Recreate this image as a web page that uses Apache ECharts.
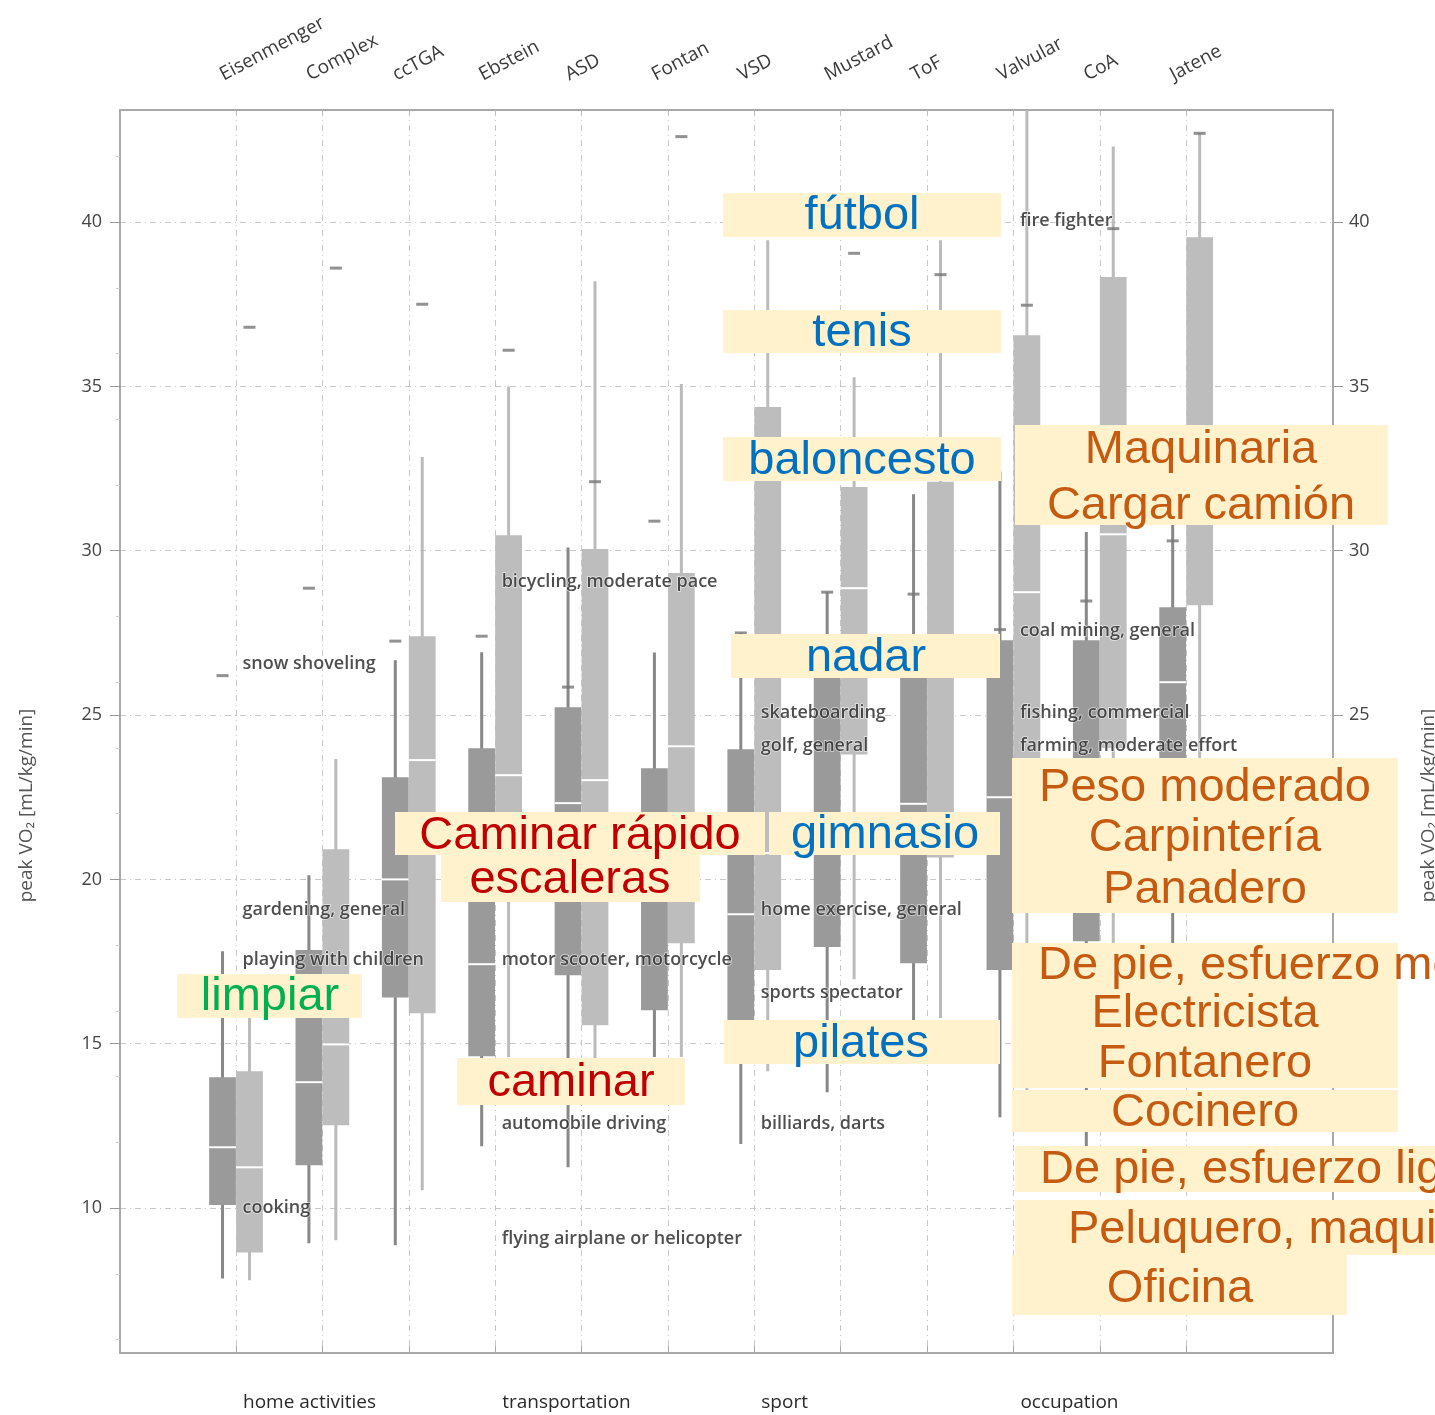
<!DOCTYPE html>
<html>
<head>
<meta charset="utf-8">
<title>peak VO2 by diagnosis</title>
<script src="https://cdn.jsdelivr.net/npm/echarts@6/dist/echarts.min.js"></script>
<style>
  html, body { margin: 0; padding: 0; background: #fff; }
  #main { width: 1435px; height: 1415px; }
</style>
</head>
<body>
<div id="main"></div>
<script>
// diagnoses along the top
var categories = ['Eisenmenger', 'Complex', 'ccTGA', 'Ebstein', 'ASD', 'Fontan', 'VSD', 'Mustard', 'ToF', 'Valvular', 'CoA', 'Jatene'];

// [low, q1, median, q3, high] - darker box (left of each pair)
var darkBoxes = [
  [7.86, 10.09, 11.85, 13.98, 17.81],
  [8.93, 11.30, 13.83, 17.85, 20.13],
  [8.87, 16.41, 20.00, 23.11, 26.67],
  [11.88, 14.62, 17.42, 23.99, 26.91],
  [11.24, 17.08, 22.32, 25.24, 30.10],
  [14.60, 16.02, 20.50, 23.38, 26.90],
  [11.95, 15.20, 18.94, 23.96, 27.50],
  [13.52, 17.94, 21.30, 26.40, 28.74],
  [15.00, 17.45, 22.30, 26.50, 31.72],
  [12.76, 17.24, 22.50, 27.28, 32.42],
  [11.50, 18.12, 21.50, 27.28, 30.57],
  [17.90, 20.50, 26.00, 28.28, 30.78]
];
// [low, q1, median, q3, high] - lighter box (right of each pair)
var lightBoxes = [
  [7.80, 8.65, 11.24, 14.16, 15.78],
  [9.02, 12.52, 14.98, 20.92, 23.66],
  [10.54, 15.93, 23.63, 27.40, 32.85],
  [14.60, 19.50, 23.17, 30.47, 35.00],
  [14.50, 15.56, 23.02, 30.05, 38.20],
  [14.60, 18.06, 24.05, 29.32, 35.07],
  [14.16, 17.24, 20.80, 34.37, 39.45],
  [16.96, 23.80, 28.86, 31.94, 35.28],
  [15.78, 20.67, 21.50, 32.10, 39.45],
  [13.00, 20.80, 28.74, 36.56, 43.40],
  [15.00, 24.00, 30.50, 38.33, 42.30],
  [21.50, 28.34, 32.50, 39.54, 42.70]
];
// short dash markers above each box
var darkMarks = [26.2, 28.86, 27.25, 27.4, 25.85, 30.9, 27.5, 28.74, 28.68, 27.6, 28.47, 30.3];
var lightMarks = [36.8, 38.6, 37.5, 36.1, 32.1, 42.6, 40.2, 39.05, 38.4, 37.47, 39.8, 42.7];

// activity columns (bottom labels) and their activities
var groups = ['home activities', 'transportation', 'sport', 'occupation'];
var groupPos = [0, 3, 6, 9];
var activities = [
  ['snow shoveling', 0, 26.55], ['gardening, general', 0, 19.06], ['playing with children', 0, 17.54], ['cooking', 0, 10.02],
  ['bicycling, moderate pace', 3, 29.04], ['motor scooter, motorcycle', 3, 17.54], ['automobile driving', 3, 12.55], ['flying airplane or helicopter', 3, 9.05],
  ['skateboarding', 6, 25.06], ['golf, general', 6, 24.05], ['home exercise, general', 6, 19.06], ['sports spectator', 6, 16.54], ['billiards, darts', 6, 12.55],
  ['fire fighter', 9, 40.03], ['coal mining, general', 9, 27.55], ['fishing, commercial', 9, 25.06], ['farming, moderate effort', 9, 24.05]
];

var yTicks = [10, 15, 20, 25, 30, 35, 40];
var xMin = -1.343, xMax = 12.70;
var yMin = 5.59, yMax = 43.41;
var pairOffset = 0.156, boxWidth = 0.31;

var catPos = categories.map(function (c, i) { return i; });
var topLabelPos = catPos.map(function (v) { return v - 0.17; });

// spanish annotation boxes drawn over the chart
var cream = '#fff2cc';
var blue = '#0070c0', red = '#c00000', green = '#00b050', orange = '#c55a11';
var notes = [
  { r: [723, 193, 278, 44], c: blue, t: [['fútbol', 862, 216]] },
  { r: [723, 310, 278, 43], c: blue, t: [['tenis', 862, 333]] },
  { r: [723, 437, 278, 44], c: blue, t: [['baloncesto', 862, 461]] },
  { r: [731, 634, 269, 44], c: blue, t: [['nadar', 866, 658]] },
  { r: [769, 812, 231, 43], c: blue, t: [['gimnasio', 885, 835]] },
  { r: [724, 1020, 276, 44], c: blue, t: [['pilates', 861, 1044]] },
  { r: [395, 812, 370, 43], c: red, t: [['Caminar rápido', 580, 836]] },
  { r: [441, 855, 259, 47], c: red, t: [['escaleras', 570, 880]] },
  { r: [457, 1058, 228, 47], c: red, t: [['caminar', 571, 1083]] },
  { r: [177, 974, 185, 44], c: green, t: [['limpiar', 270, 997]] },
  { r: [1015, 425, 373, 100], c: orange, t: [['Maquinaria', 1201, 450], ['Cargar camión', 1201, 506]] },
  { r: [1012, 758, 386, 155], c: orange, t: [['Peso moderado', 1205, 788], ['Carpintería', 1205, 838], ['Panadero', 1205, 890]] },
  { r: [1012, 943, 386, 145], c: orange, t: [['De pie, esfuerzo moderado', 1038, 966, 'left'], ['Electricista', 1205, 1014], ['Fontanero', 1205, 1064]] },
  { r: [1012, 1090, 386, 42], c: orange, t: [['Cocinero', 1205, 1113]] },
  { r: [1015, 1146, 420, 46], c: orange, t: [['De pie, esfuerzo ligero', 1040, 1170, 'left']] },
  { r: [1015, 1200, 420, 55], c: orange, t: [['Peluquero, maquillador', 1068, 1230, 'left']] },
  { r: [1012, 1255, 335, 60], c: orange, t: [['Oficina', 1180, 1289]] }
];

var chart = echarts.init(document.getElementById('main'), null, { renderer: 'canvas' });

function boxRenderer(fillColor, whiskerColor) {
  return function (params, api) {
    var x = api.value(0);
    var lo = api.coord([x, api.value(1)]);
    var q1 = api.coord([x, api.value(2)]);
    var med = api.coord([x, api.value(3)]);
    var q3 = api.coord([x, api.value(4)]);
    var hi = api.coord([x, api.value(5)]);
    var halfW = api.size([boxWidth, 0])[0] / 2;
    return {
      type: 'group',
      children: [
        { type: 'line', shape: { x1: lo[0], y1: lo[1], x2: hi[0], y2: hi[1] }, style: { stroke: whiskerColor, lineWidth: 3 } },
        { type: 'rect', shape: { x: q3[0] - halfW, y: q3[1], width: halfW * 2, height: q1[1] - q3[1] }, style: { fill: fillColor } },
        { type: 'line', shape: { x1: med[0] - halfW, y1: med[1], x2: med[0] + halfW, y2: med[1] }, style: { stroke: '#ffffff', lineWidth: 2 } }
      ]
    };
  };
}

var darkData = darkBoxes.map(function (b, i) { return [i - pairOffset].concat(b); });
var lightData = lightBoxes.map(function (b, i) { return [i + pairOffset].concat(b); });
var markData = darkMarks.map(function (v, i) { return [i - pairOffset, v]; })
  .concat(lightMarks.map(function (v, i) { return [i + pairOffset, v]; }));
var actData = activities.map(function (a) { return { name: a[0], value: [a[1], a[2]] }; });

var graphics = [];
notes.forEach(function (n) {
  graphics.push({ type: 'rect', z: 100, shape: { x: n.r[0], y: n.r[1], width: n.r[2], height: n.r[3] }, style: { fill: cream } });
  n.t.forEach(function (t) {
    graphics.push({
      type: 'text', z: 101, x: t[1], y: t[2],
      style: { text: t[0], fill: n.c, font: '47px "Liberation Sans", Arial, sans-serif', align: t[3] || 'center', verticalAlign: 'middle' }
    });
  });
});

var gridLine = { color: '#c8c8c8', width: 1, type: [6, 4, 1, 4] };
var fontFam = '"Open Sans", "Noto Sans", sans-serif';

var option = {
  backgroundColor: '#ffffff',
  animation: false,
  grid: {
    left: 120, top: 110, width: 1213, height: 1243, outerBoundsMode: 'none', containLabel: false,
    show: true, borderColor: '#a8a8a8', borderWidth: 2, backgroundColor: 'transparent'
  },
  xAxis: [
    {
      type: 'value', position: 'bottom', min: xMin, max: xMax,
      axisLine: { show: false, onZero: false },
      axisTick: { show: true, inside: true, length: 7, customValues: catPos, lineStyle: { color: '#aaa' } },
      axisLabel: {
        customValues: groupPos, margin: 40, align: 'left', padding: [0, 0, 0, 7],
        color: '#2a2a2a', fontSize: 19, fontFamily: fontFam,
        formatter: function (v) { return groups[groupPos.indexOf(v)]; }
      },
      splitLine: { show: true, lineStyle: gridLine }
    },
    {
      type: 'value', position: 'top', min: xMin, max: xMax,
      axisLine: { show: false, onZero: false },
      axisTick: { show: true, inside: true, length: 5, customValues: catPos, lineStyle: { color: '#bbb' } },
      axisLabel: {
        customValues: topLabelPos, rotate: -28, margin: 34,
        color: '#3a3a3a', fontSize: 19, fontFamily: fontFam,
        formatter: function (v) { return categories[Math.round(v)]; }
      },
      splitLine: { show: false }
    }
  ],
  yAxis: [
    {
      type: 'value', position: 'left', min: yMin, max: yMax,
      name: 'peak VO₂ [mL/kg/min]', nameLocation: 'middle', nameRotate: 90, nameGap: 84,
      nameTextStyle: { color: '#555', fontSize: 19, fontFamily: fontFam, padding: [0, 148, 0, 0] },
      axisLine: { show: true, onZero: false, lineStyle: { color: '#a8a8a8', width: 2 } },
      axisTick: { show: true, length: 10, customValues: yTicks, lineStyle: { color: '#999' } },
      minorTick: { show: true, splitNumber: 5, length: 4, lineStyle: { color: '#ccc' } },
      axisLabel: { customValues: yTicks, margin: 18, color: '#444', fontSize: 18, fontFamily: fontFam },
      splitLine: { show: true, lineStyle: gridLine }
    },
    {
      type: 'value', position: 'right', min: yMin, max: yMax,
      name: 'peak VO₂ [mL/kg/min]', nameLocation: 'middle', nameRotate: 90, nameGap: 86,
      nameTextStyle: { color: '#555', fontSize: 19, fontFamily: fontFam, padding: [0, 148, 0, 0] },
      axisLine: { show: true, onZero: false, lineStyle: { color: '#a8a8a8', width: 2 } },
      axisTick: { show: true, length: 10, customValues: yTicks, lineStyle: { color: '#999' } },
      axisLabel: { customValues: yTicks, margin: 16, color: '#444', fontSize: 18, fontFamily: fontFam },
      splitLine: { show: false }
    }
  ],
  series: [
    {
      name: 'dark', type: 'custom', renderItem: boxRenderer('#9a9a9a', '#888888'),
      encode: { x: 0, y: [1, 2, 3, 4, 5] }, data: darkData, z: 2
    },
    {
      name: 'light', type: 'custom', renderItem: boxRenderer('#bdbdbd', '#bbbbbb'),
      encode: { x: 0, y: [1, 2, 3, 4, 5] }, data: lightData, z: 2
    },
    {
      name: 'marks', type: 'scatter', symbol: 'rect', symbolSize: [12, 3],
      itemStyle: { color: '#777777' }, data: markData, z: 3
    },
    {
      name: 'activities', type: 'scatter', symbolSize: 1,
      itemStyle: { color: 'rgba(0,0,0,0)' }, data: actData, z: 4,
      label: {
        show: true, position: 'right', distance: 6, formatter: '{b}',
        color: '#222', fontSize: 18, fontWeight: 600, fontFamily: fontFam,
        textBorderColor: 'rgba(255,255,255,0.8)', textBorderWidth: 1.5
      }
    }
  ],
  graphic: graphics
};

chart.setOption(option);
</script>
</body>
</html>
